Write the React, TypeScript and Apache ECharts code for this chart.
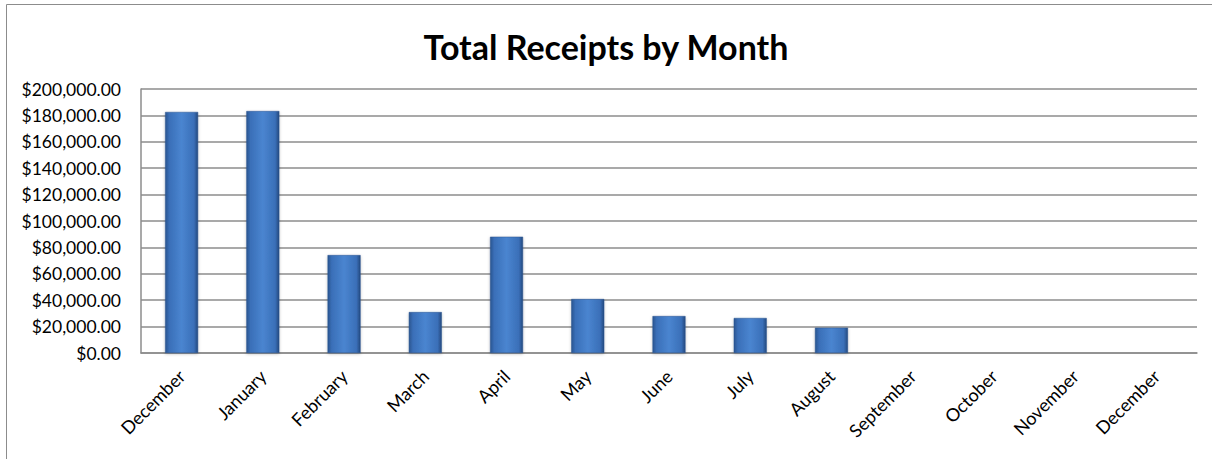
import React, { useEffect, useRef } from "react";
import * as echarts from "echarts";

const title = "Total Receipts by Month";
const months = [
  "December", "January", "February", "March", "April", "May", "June",
  "July", "August", "September", "October", "November", "December",
];
const receipts = [182600, 183300, 74200, 31000, 88100, 40900, 28000, 26500, 19200, null, null, null, null];
const yMin = 0;
const yMax = 200000;
const yStep = 20000;

export default function App() {
  const ref = useRef<HTMLDivElement>(null);
  useEffect(() => {
    document.body.style.margin = "0";
    const chart = echarts.init(ref.current!, null, { renderer: "svg" });
    const barColor = new echarts.graphic.LinearGradient(0, 0, 1, 0, [
      { offset: 0, color: "#2a5590" },
      { offset: 0.12, color: "#3a6fb8" },
      { offset: 0.5, color: "#4a85d0" },
      { offset: 0.88, color: "#3a6fb8" },
      { offset: 1, color: "#24497e" },
    ]);
    chart.setOption({
      animation: false,
      backgroundColor: "#ffffff",
      title: {
        text: title,
        left: "center",
        top: 24,
        textStyle: { fontFamily: "Lato", fontWeight: "bold", fontSize: 34, color: "#000" },
      },
      graphic: [
        {
          type: "line",
          shape: { x1: 6.5, y1: 4.5, x2: 1212, y2: 4.5 },
          style: { stroke: "#8c8c8c", lineWidth: 1 },
          silent: true,
        },
        {
          type: "line",
          shape: { x1: 6.5, y1: 4.5, x2: 6.5, y2: 459 },
          style: { stroke: "#8c8c8c", lineWidth: 1 },
          silent: true,
        },
      ],
      grid: { left: 141, right: 15, top: 89, bottom: 106, containLabel: false },
      xAxis: {
        type: "category",
        data: months,
        axisLine: { show: true, lineStyle: { color: "#8c8c8c", width: 1.5 } },
        axisTick: { show: false },
        axisLabel: {
          rotate: 45,
          interval: 0,
          margin: 20,
          fontFamily: "Lato",
          fontSize: 18,
          color: "#000",
        },
      },
      yAxis: {
        type: "value",
        min: yMin,
        max: yMax,
        interval: yStep,
        axisLine: { show: true, lineStyle: { color: "#8c8c8c", width: 1.5 } },
        axisTick: { show: false },
        splitLine: { show: true, lineStyle: { color: "#8c8c8c", width: 1.5 } },
        axisLabel: {
          margin: 20,
          fontFamily: "Lato",
          fontSize: 17.5,
          color: "#000",
          formatter: (v: number) =>
            "$" + v.toLocaleString("en-US", { minimumFractionDigits: 2, maximumFractionDigits: 2 }),
        },
      },
      series: [
        {
          type: "bar",
          data: receipts,
          barWidth: 33,
          itemStyle: {
            color: barColor,
            borderColor: "#2a5590",
            borderWidth: 0.5,
            shadowColor: "rgba(0,0,0,0.25)",
            shadowBlur: 3,
            shadowOffsetY: 1,
          },
        },
      ],
    });
    return () => chart.dispose();
  }, []);
  return <div ref={ref} style={{ width: 1212, height: 459 }} />;
}
